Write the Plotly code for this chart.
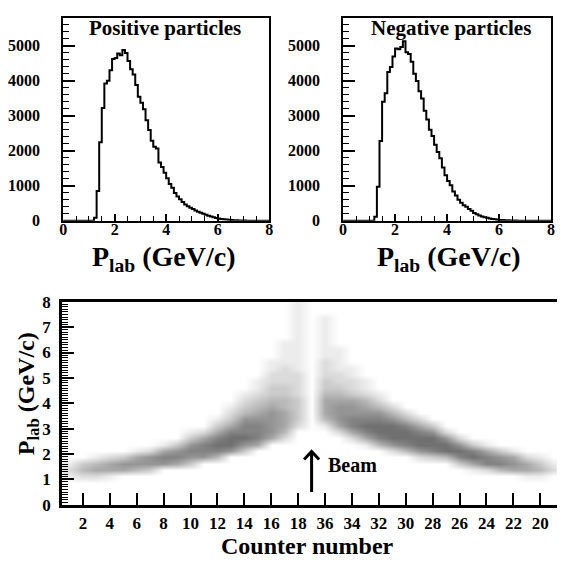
import plotly.graph_objects as go

# ---- momentum spectra (0.1 GeV/c bins, first filled bin starts at 1.2 GeV/c) ----
bin_width = 0.1
first_bin = 1.2
positive_counts = [80, 850, 2240, 3220, 3920, 4000, 4300, 4620, 4650, 4780, 4730, 4880,
                   4790, 4560, 4330, 4180, 3880, 3540, 3370, 3180, 2870, 2590, 2280, 2110,
                   2060, 1660, 1530, 1370, 1210, 1050, 940, 790, 690, 610, 530, 460, 410,
                   370, 330, 290, 255, 225, 195, 170, 140, 115, 95, 78, 62, 50, 40, 31,
                   24, 18, 13, 9, 6, 4, 3]
negative_counts = [110, 967, 2275, 3400, 3640, 4245, 4390, 4690, 4920, 4900, 4960, 5130,
                   4810, 4760, 4540, 4200, 3990, 3700, 3490, 3140, 2890, 2600, 2420, 2170,
                   1960, 1780, 1520, 1300, 1130, 1010, 830, 720, 600, 510, 440, 400, 330,
                   280, 220, 180, 145, 120, 100, 80, 62, 48, 38, 28, 20, 15, 11, 8, 5, 3, 2]
hist_x_ticks = [0, 2, 4, 6, 8]
hist_y_ticks = [0, 1000, 2000, 3000, 4000, 5000]

# ---- momentum vs counter: hit density per counter slot, 0.25 GeV/c rows ----
row_height = 0.25
n_rows = 32
counter_labels = ["1", "2", "3", "4", "5", "6", "7", "8", "9", "10", "11", "12", "13",
                  "14", "15", "16", "17", "18", "", "36", "35", "34", "33", "32", "31",
                  "30", "29", "28", "27", "26", "25", "24", "23", "22", "21", "20", "19"]
band_first_row = [4, 4, 4, 4, 5, 5, 5, 6, 6, 6, 7, 7, 8, 8, 9, 10, 10, 12, 0,
                  12, 11, 10, 9, 9, 8, 8, 7, 7, 7, 6, 5, 5, 5, 5, 4, 4, 5]
band_density = [
    [1, 2, 1],
    [2, 4, 3],
    [2, 5, 4, 1],
    [1, 5, 5, 2],
    [5, 6, 3],
    [4, 6, 5, 1],
    [3, 6, 6, 2],
    [6, 7, 5, 1],
    [5, 7, 6, 3],
    [3, 6, 7, 6, 3, 1],
    [6, 7, 7, 5, 2],
    [4, 7, 8, 7, 5, 3, 1],
    [6, 8, 8, 7, 5, 3, 2, 1],
    [3, 6, 8, 7, 7, 6, 4, 3, 2, 1],
    [5, 7, 7, 7, 6, 5, 4, 3, 2, 1, 1],
    [5, 6, 6, 6, 6, 5, 4, 3, 3, 2, 2, 1, 1],
    [2, 4, 5, 5, 5, 4, 4, 3, 3, 2, 2, 2, 1, 1, 1, 1],
    [2, 3, 3, 3, 3, 2, 2, 2, 2, 1, 1, 1, 1, 1, 1, 1, 1, 1, 1, 1],
    [],
    [1, 4, 5, 5, 5, 4, 3, 3, 2, 2, 2, 1, 1, 1, 1, 1, 1, 1],
    [2, 5, 6, 6, 6, 5, 4, 3, 2, 2, 1, 1, 1, 1],
    [2, 5, 7, 7, 6, 6, 5, 3, 2, 2, 1, 1],
    [1, 5, 7, 8, 7, 6, 5, 4, 2, 1, 1],
    [4, 7, 8, 8, 7, 6, 4, 2, 1],
    [2, 6, 8, 8, 8, 6, 4, 2],
    [4, 7, 8, 8, 7, 4, 2],
    [2, 6, 8, 8, 7, 5, 2],
    [3, 7, 8, 8, 6, 3],
    [4, 8, 8, 6, 2],
    [3, 7, 8, 6, 2],
    [1, 5, 8, 7, 3],
    [2, 7, 7, 5, 1],
    [4, 7, 6, 3],
    [5, 6, 5, 1],
    [1, 5, 5, 2],
    [1, 4, 3, 1],
    [2, 1],
]
beam_slot = 19
scatter_y_ticks = [0, 1, 2, 3, 4, 5, 6, 7, 8]

W, H = 561, 565
FONT = "Liberation Serif"


def bold(values):
    return ["<b>%s</b>" % v for v in values]


def step_xy(counts):
    n_lead = int(round(first_bin / bin_width))
    full = [0] * n_lead + list(counts)
    n_total = int(round(8 / bin_width))
    full += [0] * (n_total - len(full))
    xs = [i * bin_width for i in range(n_total + 1)]
    ys = full + [full[-1]]
    return xs, ys


def px_dom_x(a, b):
    return [a / W, b / W]


def px_dom_y(top, bottom):
    return [1 - bottom / H, 1 - top / H]


fig = go.Figure()

for counts, xa, ya in [(positive_counts, "x", "y"), (negative_counts, "x2", "y2")]:
    xs, ys = step_xy(counts)
    fig.add_trace(go.Scatter(x=xs, y=ys, mode="lines", line=dict(shape="hv", color="black", width=2),
                             xaxis=xa, yaxis=ya, showlegend=False, hoverinfo="skip"))

# density grid
slots = list(range(1, len(counter_labels) + 1))
z = [[0] * len(slots) for _ in range(n_rows)]
for j, (r0, dens) in enumerate(zip(band_first_row, band_density)):
    for k, v in enumerate(dens):
        z[r0 + k][j] = v
row_centers = [row_height * (k + 0.5) for k in range(n_rows)]

fig.add_trace(go.Heatmap(
    x=slots, y=row_centers, z=z, zmin=0, zmax=10, zsmooth="best",
    colorscale=[[0, "#ffffff"], [0.1, "#ececec"], [0.4, "#bababa"], [0.8, "#707070"], [1, "#505050"]],
    showscale=False, xaxis="x3", yaxis="y3", hoverinfo="skip"))

tick_font = dict(family=FONT, size=16, color="black")
big_tick_font = dict(family=FONT, size=17, color="black")

hist_x = dict(range=[0, 8], tickvals=hist_x_ticks, ticktext=bold(hist_x_ticks), ticks="inside",
              ticklen=7, tickwidth=1.5,
              minor=dict(dtick=0.5, tick0=0, ticks="inside", ticklen=5, tickwidth=1.2, tickcolor="black"),
              showline=True, mirror=True, linecolor="black", linewidth=2, showgrid=False,
              zeroline=False, tickfont=tick_font, tickcolor="black", ticklabelstandoff=-7)
hist_y = dict(range=[0, 5800], tickvals=hist_y_ticks, ticktext=bold(hist_y_ticks), ticks="inside",
              ticklen=12, tickwidth=1.5,
              minor=dict(dtick=200, tick0=0, ticks="inside", ticklen=6, tickwidth=1.2, tickcolor="black"),
              showline=True, mirror=True, linecolor="black", linewidth=2, showgrid=False,
              zeroline=False, tickfont=tick_font, tickcolor="black", ticklabelstandoff=18)

tick_pos = [s for s in slots if s % 2 == 0]
tick_txt = bold([counter_labels[s - 1] for s in tick_pos])

fig.update_layout(
    width=W, height=H, margin=dict(l=0, r=0, t=0, b=0),
    paper_bgcolor="white", plot_bgcolor="white",
    xaxis=dict(domain=px_dom_x(60, 269), anchor="y", **hist_x),
    yaxis=dict(domain=px_dom_y(9, 219), anchor="x", **hist_y),
    xaxis2=dict(domain=px_dom_x(344, 555), anchor="y2", **hist_x),
    yaxis2=dict(domain=px_dom_y(9, 219), anchor="x2", **hist_y),
    xaxis3=dict(domain=px_dom_x(59, 561), anchor="y3", range=[0.46, 37.24],
                tickvals=tick_pos, ticktext=tick_txt, ticks="inside", ticklen=12, tickwidth=2,
                tickcolor="black", showline=True, mirror=True, linecolor="black", linewidth=3,
                showgrid=False, zeroline=False, tickfont=big_tick_font, ticklabelstandoff=1),
    yaxis3=dict(domain=px_dom_y(303, 513), anchor="x3", range=[0, 8], tickvals=scatter_y_ticks,
                ticktext=bold(scatter_y_ticks), ticks="inside",
                ticklen=12, tickwidth=2, tickcolor="black",
                minor=dict(dtick=0.1, tick0=0, ticks="inside", ticklen=6, tickwidth=1, tickcolor="black"),
                showline=True, mirror=False, linecolor="black", linewidth=3, showgrid=False,
                zeroline=False, tickfont=big_tick_font, ticklabelstandoff=5),
)

title_font = dict(family=FONT, size=21, color="black")
axis_font = dict(family=FONT, size=28, color="black")
p_title = "<b>P<sub>lab</sub> (GeV/c)</b>"

fig.add_annotation(text="<b>Positive particles</b>", xref="paper", yref="paper", x=163 / W, y=1 - 20 / H,
                   showarrow=False, font=title_font, xanchor="center", yanchor="middle")
fig.add_annotation(text="<b>Negative particles</b>", xref="paper", yref="paper", x=453 / W, y=1 - 20 / H,
                   showarrow=False, font=title_font, xanchor="center", yanchor="middle")
fig.add_annotation(text=p_title, xref="paper", yref="paper", x=162 / W, y=1 - 258 / H,
                   showarrow=False, font=axis_font, xanchor="center", yanchor="middle")
fig.add_annotation(text=p_title, xref="paper", yref="paper", x=451 / W, y=1 - 258 / H,
                   showarrow=False, font=axis_font, xanchor="center", yanchor="middle")
fig.add_annotation(text=p_title, xref="paper", yref="paper", x=24 / W, y=1 - 398 / H,
                   showarrow=False, font=dict(family=FONT, size=24, color="black"), textangle=-90,
                   xanchor="center", yanchor="middle")
fig.add_annotation(text="<b>Counter number</b>", xref="paper", yref="paper", x=308 / W, y=1 - 556 / H,
                   showarrow=False, font=dict(family=FONT, size=24, color="black"),
                   xanchor="center", yanchor="middle")

# beam direction marker
fig.add_shape(type="line", xref="x3", yref="y3", x0=beam_slot, x1=beam_slot, y0=0.5, y1=2.08,
              line=dict(color="black", width=3))
fig.add_shape(type="path", xref="x3", yref="y3", xsizemode="pixel", ysizemode="pixel",
              xanchor=beam_slot, yanchor=2.1, path="M -7.5 -8 L 0 0 L 7.5 -8",
              line=dict(color="black", width=3))
fig.add_annotation(text="<b>Beam</b>", xref="x3", yref="y3", x=20.1, y=1.55, showarrow=False,
                   xanchor="left", yanchor="middle",
                   font=dict(family=FONT, size=20, color="black"))

fig.write_html("out.html")
